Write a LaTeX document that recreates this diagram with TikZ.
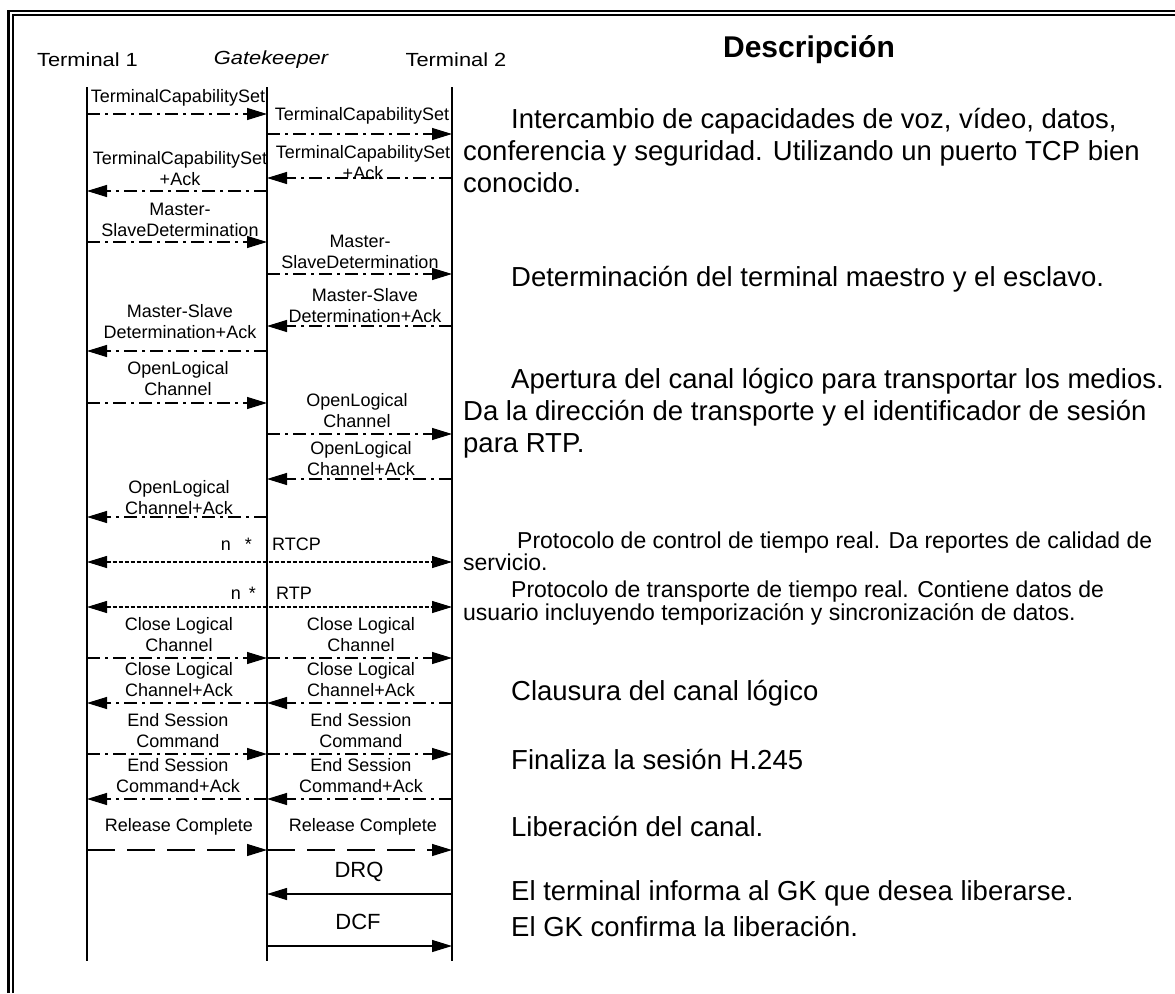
\documentclass[tikz,border=0pt]{standalone}
\usepackage{fontspec}
\setmainfont{Liberation Sans}
\newfontfamily\widesans[FakeStretch=1.15]{Liberation Sans}
\usetikzlibrary{arrows.meta}

\begin{document}
\begin{tikzpicture}[x=1pt,y=-1pt,
  lifeline/.style={line width=1.5pt},
  msg/.style={line width=1.2pt,-{Triangle[length=20pt,width=12pt]}},
  bothmsg/.style={line width=1.1pt,{Triangle[length=20pt,width=12pt]}-{Triangle[length=20pt,width=12pt]}},
  dashdot/.style={dash pattern=on 13pt off 5pt on 3pt off 5pt},
  finedash/.style={dash pattern=on 4pt off 2pt},
  longdash/.style={dash pattern=on 28pt off 12pt},
  head/.style={inner sep=0pt,font=\widesans\fontsize{19}{22}\selectfont},
  lbl/.style={inner sep=0pt,align=center,font=\fontsize{18}{21}\selectfont},
  biglbl/.style={inner sep=0pt,font=\fontsize{22}{26}\selectfont},
  desc/.style={inner sep=0pt,anchor=base west,font=\fontsize{27.5}{32}\selectfont},
  smalldesc/.style={inner sep=0pt,anchor=base west,font=\fontsize{23}{22}\selectfont}
]
\useasboundingbox (0,0) rectangle (1175,993);

% double frame
\draw[line width=2.5pt] (8.7,993) -- (8.7,11) -- (1175,11);
\draw[line width=2pt] (13,993) -- (13,15.2) -- (1175,15.2);

% headers
\node[head] (h1) at (87.5,60) {Terminal 1};
\node[head,font=\widesans\fontsize{19}{22}\selectfont\itshape] (h2) at (271,60) {Gatekeeper};
\node[head] (h3) at (456,60) {Terminal 2};
\node[inner sep=0pt,font=\fontsize{30}{34}\selectfont\bfseries] (title) at (809,50) {Descripción};

% lifelines
\coordinate (t1) at (87,87);   \coordinate (t1e) at (87,961);
\coordinate (gk) at (267,87);  \coordinate (gke) at (267,961);
\coordinate (t2) at (452,87);  \coordinate (t2e) at (452,961);
\draw[lifeline] (t1) -- (t1e);
\draw[lifeline] (gk) -- (gke);
\draw[lifeline] (t2) -- (t2e);

% capability exchange
\node[lbl] (m1) at (178,98) {TerminalCapabilitySet};
\draw[msg,dashdot] (t1 |- 0,114) -- (gk |- 0,114);
\node[lbl] (m2) at (362,116) {TerminalCapabilitySet};
\draw[msg,dashdot] (gk |- 0,134) -- (t2 |- 0,134);
\node[lbl] (m3) at (363,162.5) {TerminalCapabilitySet\\+Ack};
\draw[msg,dashdot] (t2 |- 0,178) -- (gk |- 0,178);
\node[lbl] (m4) at (180,168.5) {TerminalCapabilitySet\\+Ack};
\draw[msg,dashdot] (gk |- 0,191) -- (t1 |- 0,191);

% master/slave determination
\node[lbl] (m5) at (180,219.5) {Master-\\SlaveDetermination};
\draw[msg,dashdot] (t1 |- 0,242) -- (gk |- 0,242);
\node[lbl] (m6) at (360,251.7) {Master-\\SlaveDetermination};
\draw[msg,dashdot] (gk |- 0,274) -- (t2 |- 0,274);
\node[lbl] (m7) at (365,306) {Master-Slave\\Determination+Ack};
\draw[msg,dashdot] (t2 |- 0,326) -- (gk |- 0,326);
\node[lbl] (m8) at (180,321.7) {Master-Slave\\Determination+Ack};
\draw[msg,dashdot] (gk |- 0,351) -- (t1 |- 0,351);

% logical channel opening
\node[lbl] (m9) at (178,379) {OpenLogical\\Channel};
\draw[msg,dashdot] (t1 |- 0,403) -- (gk |- 0,403);
\node[lbl] (m10) at (357,411) {OpenLogical\\Channel};
\draw[msg,dashdot] (gk |- 0,434) -- (t2 |- 0,434);
\node[lbl] (m11) at (361,459) {OpenLogical\\Channel+Ack};
\draw[msg,dashdot] (t2 |- 0,479) -- (gk |- 0,479);
\node[lbl] (m12) at (179,498) {OpenLogical\\Channel+Ack};
\draw[msg,dashdot] (gk |- 0,517) -- (t1 |- 0,517);

% media streams
\node[lbl,anchor=east] (n1) at (252,544) {n\hspace{14pt}*};
\node[lbl,anchor=west] (rtcp) at (272,544) {RTCP};
\draw[bothmsg,finedash] (t1 |- 0,562) -- (t2 |- 0,562);
\node[lbl,anchor=east] (n2) at (256,593) {n\hspace{8pt}*};
\node[lbl,anchor=west] (rtp) at (276,593) {RTP};
\draw[bothmsg,finedash] (t1 |- 0,607) -- (t2 |- 0,607);

% logical channel closing
\node[lbl] (m15) at (179,635) {Close Logical\\Channel};
\draw[msg,dashdot] (t1 |- 0,658) -- (gk |- 0,658);
\node[lbl] (m16) at (361,635) {Close Logical\\Channel};
\draw[msg,dashdot] (gk |- 0,658) -- (t2 |- 0,658);
\node[lbl] (m17) at (179,680) {Close Logical\\Channel+Ack};
\draw[msg,dashdot] (gk |- 0,703) -- (t1 |- 0,703);
\node[lbl] (m18) at (361,680) {Close Logical\\Channel+Ack};
\draw[msg,dashdot] (t2 |- 0,703) -- (gk |- 0,703);

% end of session
\node[lbl] (m19) at (178,731) {End Session\\Command};
\draw[msg,dashdot] (t1 |- 0,754) -- (gk |- 0,754);
\node[lbl] (m20) at (361,731) {End Session\\Command};
\draw[msg,dashdot] (gk |- 0,754) -- (t2 |- 0,754);
\node[lbl] (m21) at (178,776) {End Session\\Command+Ack};
\draw[msg,dashdot] (gk |- 0,799) -- (t1 |- 0,799);
\node[lbl] (m22) at (361,776) {End Session\\Command+Ack};
\draw[msg,dashdot] (t2 |- 0,799) -- (gk |- 0,799);

% release
\node[lbl] (m23) at (179,827) {Release Complete};
\draw[msg,longdash] (t1 |- 0,850) -- (gk |- 0,850);
\node[lbl] (m24) at (363,827) {Release Complete};
\draw[msg,longdash] (gk |- 0,850) -- (t2 |- 0,850);
\node[biglbl] (drq) at (359,872) {DRQ};
\draw[msg] (t2 |- 0,894) -- (gk |- 0,894);
\node[biglbl] (dcf) at (358,922) {DCF};
\draw[msg] (gk |- 0,946) -- (t2 |- 0,946);

% description column
\node[desc] (d1) at (511,128) {Intercambio de capacidades de voz, vídeo, datos,};
\node[desc] (d2) at (463,160) {conferencia y seguridad. Utilizando un puerto TCP bien};
\node[desc] (d3) at (463,192) {conocido.};
\node[desc] (d4) at (511,286) {Determinación del terminal maestro y el esclavo.};
\node[desc] (d5) at (511,388) {Apertura del canal lógico para transportar los medios.};
\node[desc] (d6) at (463,420) {Da la dirección de transporte y el identificador de sesión};
\node[desc] (d7) at (463,452) {para RTP.};
\node[smalldesc] (d8) at (517,548) {Protocolo de control de tiempo real. Da reportes de calidad de};
\node[smalldesc] (d9) at (463,570) {servicio.};
\node[smalldesc] (d10) at (511,597) {Protocolo de transporte de tiempo real. Contiene datos de};
\node[smalldesc] (d11) at (463,620) {usuario incluyendo temporización y sincronización de datos.};
\node[desc] (d12) at (511,700) {Clausura del canal lógico};
\node[desc] (d13) at (511,769) {Finaliza la sesión H.245};
\node[desc] (d14) at (511,836) {Liberación del canal.};
\node[desc] (d15) at (511,900) {El terminal informa al GK que desea liberarse.};
\node[desc] (d16) at (511,936) {El GK confirma la liberación.};
\end{tikzpicture}
\end{document}
